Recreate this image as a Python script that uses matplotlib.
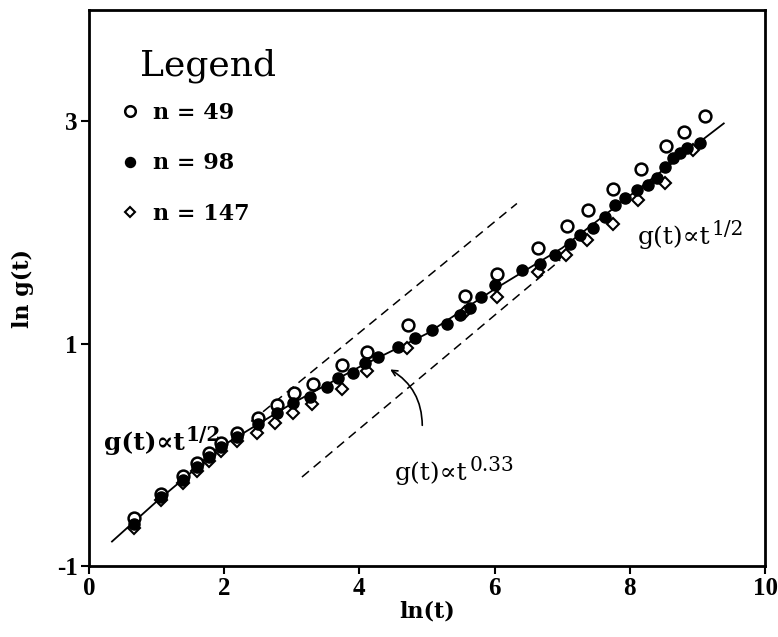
import matplotlib
matplotlib.use("Agg")
import matplotlib.pyplot as plt

plt.rcParams['mathtext.fontset'] = 'dejavuserif'
plt.rcParams['font.family'] = ['DejaVu Serif']
plt.rcParams['axes.unicode_minus'] = False

# n = 49 (open circles)
x49 = [0.67, 1.07, 1.39, 1.60, 1.78, 1.95, 2.19, 2.50, 2.78, 3.03, 3.31, 3.74,
       4.11, 4.72, 5.56, 6.04, 6.64, 7.07, 7.38, 7.75, 8.17, 8.54, 8.80, 9.11]
y49 = [-0.57, -0.35, -0.19, -0.07, 0.02, 0.11, 0.20, 0.33, 0.45, 0.56, 0.64, 0.81,
       0.92, 1.17, 1.43, 1.63, 1.86, 2.06, 2.20, 2.39, 2.57, 2.78, 2.90, 3.05]

# n = 98 (filled circles)
x98 = [0.67, 1.07, 1.39, 1.60, 1.78, 1.95, 2.19, 2.50, 2.78, 3.02, 3.27, 3.52,
       3.68, 3.91, 4.08, 4.28, 4.57, 4.82, 5.07, 5.30, 5.49, 5.64, 5.80, 6.01,
       6.41, 6.67, 6.89, 7.12, 7.26, 7.46, 7.63, 7.78, 7.93, 8.11, 8.27, 8.40,
       8.52, 8.64, 8.74, 8.85, 9.04]
y98 = [-0.62, -0.38, -0.23, -0.11, -0.02, 0.07, 0.16, 0.28, 0.38, 0.47, 0.52, 0.61,
       0.69, 0.74, 0.83, 0.88, 0.97, 1.05, 1.12, 1.18, 1.26, 1.32, 1.42, 1.53,
       1.66, 1.72, 1.80, 1.90, 1.98, 2.04, 2.14, 2.25, 2.31, 2.38, 2.43, 2.49,
       2.59, 2.67, 2.71, 2.76, 2.80]

# n = 147 (diamonds)
x147 = [0.67, 1.07, 1.39, 1.60, 1.78, 1.95, 2.19, 2.49, 2.75, 3.02, 3.30, 3.74,
        4.11, 4.70, 5.56, 6.04, 6.64, 7.06, 7.37, 7.75, 8.12, 8.52, 8.94]
y147 = [-0.66, -0.41, -0.25, -0.15, -0.06, 0.03, 0.12, 0.20, 0.29, 0.38, 0.46, 0.59,
        0.75, 0.96, 1.28, 1.42, 1.64, 1.80, 1.93, 2.08, 2.29, 2.44, 2.74]

# fitted curve through the data
fit_x = [0.34, 1.0, 2.0, 3.0, 4.0, 5.0, 6.0, 7.0, 8.0, 9.39]
fit_y = [-0.78, -0.42, 0.09, 0.46, 0.79, 1.09, 1.49, 1.86, 2.33, 2.98]

# slope-1/2 guide lines
upper_x = [2.4, 6.33]
upper_y = [0.30, 2.26]
lower_x = [3.15, 6.97]
lower_y = [-0.20, 1.75]

fig = plt.figure(figsize=(7.78, 6.37), dpi=100)
ax = fig.add_axes([89 / 778, 71 / 637, 676 / 778, 556 / 637])

ax.plot(fit_x, fit_y, color='black', lw=1.3, zorder=2)
ax.plot(upper_x, upper_y, color='black', lw=1.1, ls=(0, (6, 4)), zorder=1)
ax.plot(lower_x, lower_y, color='black', lw=1.1, ls=(0, (6, 4)), zorder=1)

ax.plot(x147, y147, ls='none', marker='D', ms=6, mfc='white', mec='black', mew=1.5,
        label='n = 147', zorder=3)
ax.plot(x49, y49, ls='none', marker='o', ms=8.5, mfc='white', mec='black', mew=1.8,
        label='n = 49', zorder=4)
ax.plot(x98, y98, ls='none', marker='o', ms=8, mfc='black', mec='black',
        label='n = 98', zorder=5)

handles, labels = ax.get_legend_handles_labels()
order = [1, 2, 0]
ax.legend([handles[i] for i in order], [labels[i] for i in order],
          loc='upper left', frameon=False,
          prop={'weight': 'bold', 'size': 16}, markerscale=0.9,
          handlelength=0.6, handletextpad=0.75, labelspacing=1.29,
          borderpad=0, borderaxespad=0, bbox_to_anchor=(0.0507, 0.835))
ax.text(0.0754, 0.883, 'Legend', transform=ax.transAxes, fontsize=26, va='baseline')


def power_label(x, y, sup, weight):
    base = ax.text(x, y, 'g(t)\u221dt', fontsize=18, fontweight=weight, va='baseline')
    ax.annotate(sup, xy=(1, 0), xycoords=base, xytext=(1, 10),
                textcoords='offset points', fontsize=14.5, fontweight=weight,
                va='baseline')


power_label(0.22, 0.043, '1/2', 'bold')
power_label(4.53, -0.23, '0.33', 'normal')
power_label(8.12, 1.90, '1/2', 'normal')

ax.annotate('', xy=(4.42, 0.78), xytext=(4.93, 0.24),
            arrowprops=dict(arrowstyle='->', color='black', lw=1.2,
                            connectionstyle='arc3,rad=0.3'))

ax.set_xlim(0, 10)
ax.set_ylim(-1, 4)
ax.set_xticks([0, 2, 4, 6, 8, 10])
ax.set_yticks([-1, 1, 3])
ax.tick_params(direction='out', length=6, width=1.5, pad=2)
for lab in ax.get_xticklabels() + ax.get_yticklabels():
    lab.set_fontfamily('Liberation Serif')
    lab.set_fontweight('bold')
    lab.set_fontsize(18)
for sp in ax.spines.values():
    sp.set_linewidth(2)

ax.set_xlabel('ln(t)', fontsize=16, fontweight='bold', labelpad=0)
ax.set_ylabel('ln g(t)', fontsize=16, fontweight='bold')
ax.yaxis.set_label_coords(-0.082, 0.50)

fig.savefig('out.png', dpi=100)
